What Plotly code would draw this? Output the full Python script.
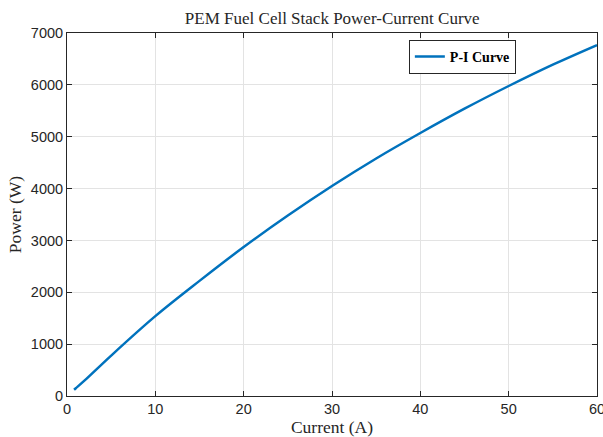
import plotly.graph_objects as go

current_A = [0.8, 1, 2, 5, 10, 15, 20, 25, 30, 35, 40, 45, 50, 55, 60]
power_W = [120, 150, 300, 780, 1540, 2220, 2873, 3480, 4049, 4580, 5071, 5540, 5978, 6390, 6768]

x_ticks = [0, 10, 20, 30, 40, 50, 60]
y_ticks = [0, 1000, 2000, 3000, 4000, 5000, 6000, 7000]

serif = "Liberation Serif, Times New Roman"
sans = "Liberation Sans, Arial"

fig = go.Figure()
fig.add_trace(go.Scatter(
    x=current_A, y=power_W, mode="lines", name="<b>P-I Curve</b>",
    line=dict(color="#0072BD", width=2.5, shape="spline"),
))

axis_common = dict(
    showgrid=True, gridcolor="#e3e3e3", gridwidth=1,
    showline=True, linecolor="#262626", linewidth=1, mirror="ticks",
    ticks="inside", ticklen=5, tickcolor="#262626",
    tickfont=dict(family=sans, size=14.5, color="#262626"),
    zeroline=False, automargin=False,
)

fig.update_layout(
    width=603, height=437,
    margin=dict(l=67, r=6, t=33, b=41),
    paper_bgcolor="white", plot_bgcolor="white",
    title=dict(text="PEM Fuel Cell Stack Power-Current Curve",
               font=dict(family=serif, size=17, color="#262626"),
               x=0.551, xanchor="center", y=0.959, yanchor="middle"),
    xaxis=dict(range=[0, 60], tickvals=x_ticks, ticklabeloverflow="allow",
               title=dict(text="Current (A)", standoff=3,
                          font=dict(family=serif, size=17.5, color="#262626")),
               **axis_common),
    yaxis=dict(range=[0, 7000], tickvals=y_ticks,
               title=dict(text="Power (W)", standoff=4,
                          font=dict(family=serif, size=17.5, color="#262626")),
               **axis_common),
    legend=dict(x=0.645, y=0.981, xanchor="left", yanchor="top",
                bgcolor="white", bordercolor="#262626", borderwidth=1,
                font=dict(family=serif, size=14, color="black"),
                tracegroupgap=0, itemwidth=30),
    showlegend=True,
)

fig.write_html("out.html")
